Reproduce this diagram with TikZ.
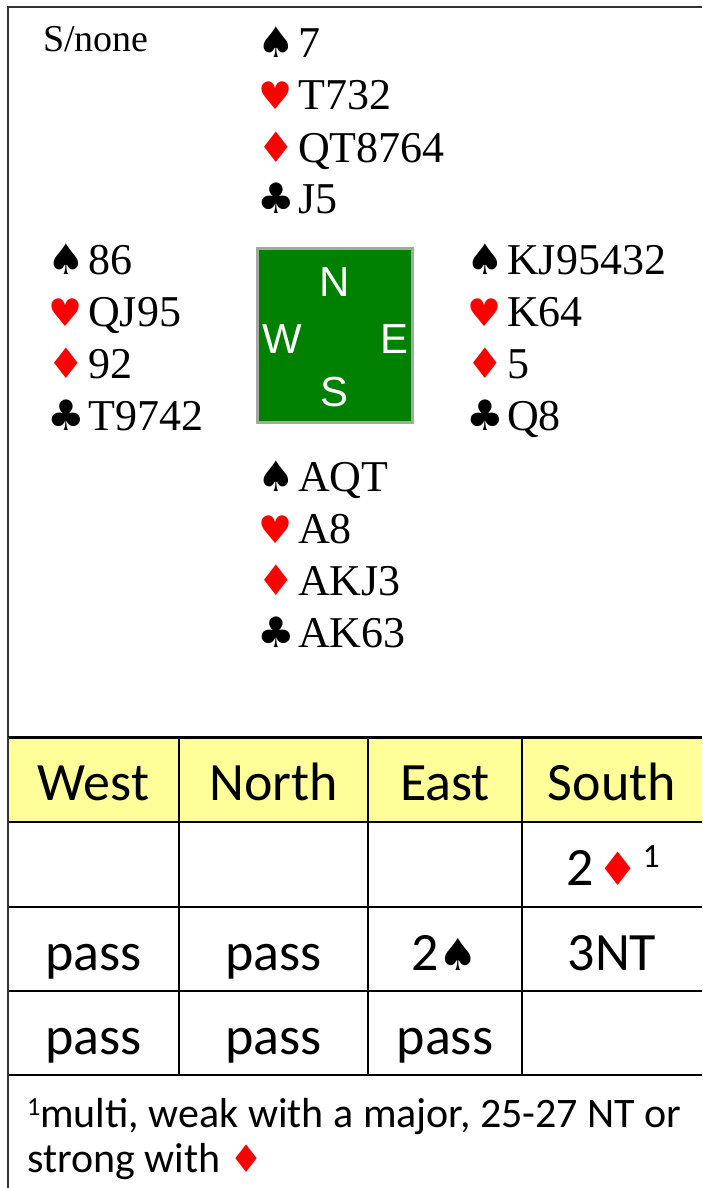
\documentclass[tikz,border=0pt]{standalone}
\usepackage{fontspec}
\setmainfont{Liberation Serif}
\newfontfamily\calib{Carlito}
\newfontfamily\arialf{Liberation Sans}
\newfontfamily\suitf{DejaVu Sans}
\definecolor{tablegreen}{HTML}{008000}
\definecolor{boxgray}{HTML}{A6A6A6}
\definecolor{headyellow}{HTML}{FFFF99}
\definecolor{framegray}{HTML}{333333}
\newcommand\handline[6]{%
  \node[suitsym,text=#5] (#1s) at (#2+14,#3) {#4};
  \node[handtext] (#1) at (#2+36,#3) {#6};}
\newcommand\hrt{{\fontsize{38}{42}\selectfont ♥}}
\begin{document}
\begin{tikzpicture}[x=1pt,y=-1pt,
  handtext/.style={anchor=base west,inner sep=0pt,font=\fontsize{44}{52}\selectfont},
  suitsym/.style={anchor=base,inner sep=0pt,font=\suitf\fontsize{42}{46}\selectfont},
  compass/.style={inner sep=0pt,text=white,font=\arialf\fontsize{42}{46}\selectfont},
  bid/.style={anchor=base,inner sep=0pt,font=\calib\fontsize{54}{60}\selectfont},
  note/.style={anchor=base west,inner sep=0pt,font=\calib\fontsize{42}{48}\selectfont},
  gridline/.style={line width=2pt,draw=black}]
\useasboundingbox (0,0) rectangle (702,1188);
% outer frame
\draw[line width=2pt,draw=framegray] (702,7) -- (8,7) -- (8,1188);
% dealer
\node[anchor=base west,inner sep=0pt,font=\fontsize{38}{44}\selectfont] (dealer) at (43,52) {S/none};
% North
\handline{n1}{262}{58}{♠}{black}{7}
\handline{n2}{262}{110}{\hrt}{red}{T732}
\handline{n3}{262}{162}{♦}{red}{QT8764}
\handline{n4}{262}{213}{♣}{black}{J5}
% West
\handline{w1}{52}{274}{♠}{black}{86}
\handline{w2}{52}{326}{\hrt}{red}{QJ95}
\handline{w3}{52}{378}{♦}{red}{92}
\handline{w4}{52}{430}{♣}{black}{T9742}
% East
\handline{e1}{471}{274}{♠}{black}{KJ95432}
\handline{e2}{471}{326}{\hrt}{red}{K64}
\handline{e3}{471}{378}{♦}{red}{5}
\handline{e4}{471}{430}{♣}{black}{Q8}
% South
\handline{s1}{262}{491}{♠}{black}{AQT}
\handline{s2}{262}{543}{\hrt}{red}{A8}
\handline{s3}{262}{595}{♦}{red}{AKJ3}
\handline{s4}{262}{647}{♣}{black}{AK63}
% compass box
\node[draw=boxgray,line width=3pt,fill=tablegreen,minimum width=155pt,minimum height=174pt,inner sep=0pt] (box) at (335,335.5) {};
\node[compass,anchor=base] (cN) at (335,296) {N};
\node[compass,anchor=base west] (cW) at (262,353) {W};
\node[compass,anchor=base east] (cE) at (409,353) {E};
\node[compass,anchor=base] (cS) at (335,406) {S};
% bidding table
\fill[headyellow] (8,737) rectangle (702,822);
\draw[line width=3pt] (8,737) -- (702,737);
\draw[gridline] (8,822) -- (702,822);
\draw[gridline] (8,907) -- (702,907);
\draw[gridline] (8,991) -- (702,991);
\draw[gridline] (8,1075) -- (702,1075);
\foreach \cx in {179,368,522} {\draw[gridline] (\cx,737) -- (\cx,1075);}
\draw[line width=2pt,draw=framegray] (8,737) -- (8,1188);
\node[bid] (hW) at (93.5,800) {West};
\node[bid] (hN) at (273.5,800) {North};
\node[bid] (hE) at (445,800) {East};
\node[bid] (hS) at (612,800) {South};
\node[bid] (b1) at (613,885) {2\hspace{4pt}{\color{red}\suitf\fontsize{46}{46}\selectfont ♦}\hspace{4pt}\raisebox{18pt}{\fontsize{34}{36}\selectfont 1}};
\node[bid] (b2) at (93.5,970) {pass};
\node[bid] (b3) at (273.5,970) {pass};
\node[bid] (b4) at (445,970) {2{\suitf\fontsize{44}{44}\selectfont ♠}};
\node[bid] (b5) at (612,970) {3NT};
\node[bid] (b6) at (93.5,1054) {pass};
\node[bid] (b7) at (273.5,1054) {pass};
\node[bid] (b8) at (445,1054) {pass};
% footnote
\node[note] (f1) at (27,1127) {\raisebox{12pt}{\fontsize{26}{28}\selectfont 1}multi, weak with a major, 25-27 NT or};
\node[note] (f2) at (27,1172) {strong with {\color{red}\suitf\fontsize{38}{40}\selectfont ♦}};
\end{tikzpicture}
\end{document}
